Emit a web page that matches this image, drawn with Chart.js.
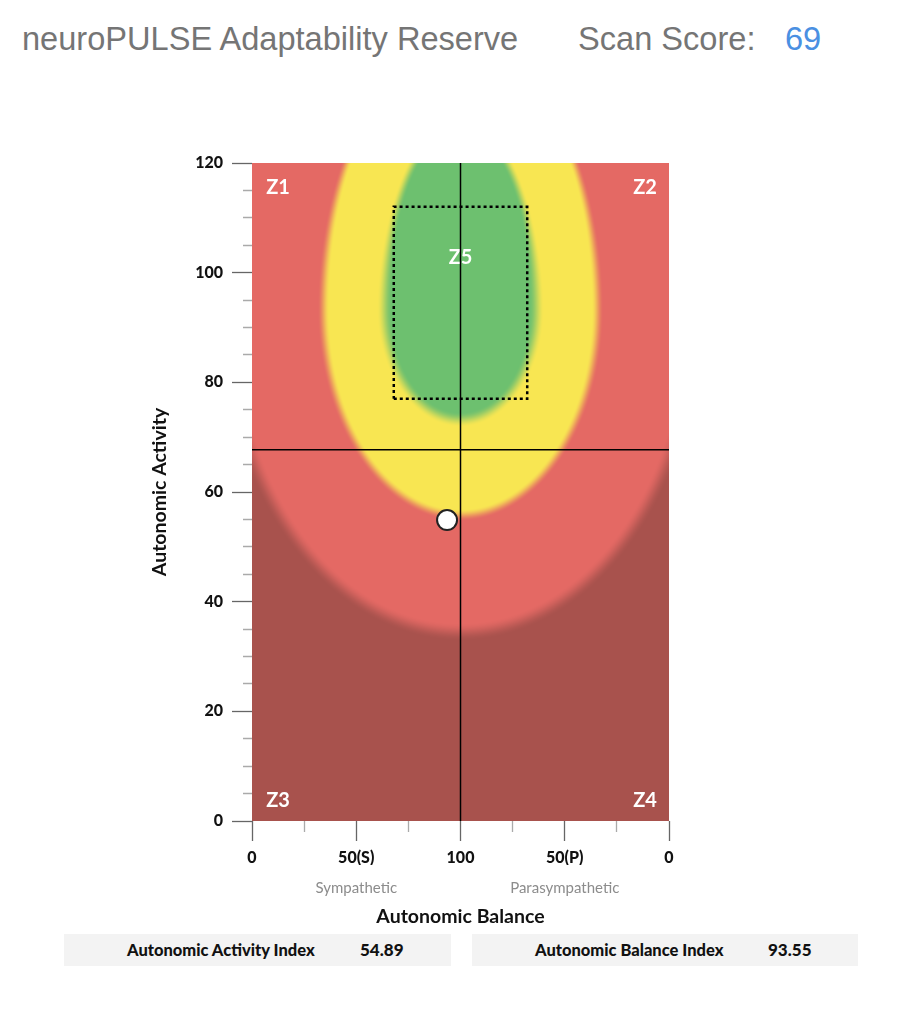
<!DOCTYPE html>
<html>
<head>
<meta charset="utf-8">
<script src="https://cdn.jsdelivr.net/npm/chart.js@4/dist/chart.umd.min.js"></script>
<style>
  html, body { margin:0; padding:0; background:#fff; }
  body { width:902px; height:1024px; position:relative; overflow:hidden; font-family:"Liberation Sans", Arial, sans-serif; }
  .hdr { position:absolute; top:23px; font-size:32.6px; line-height:32px; color:#757575; white-space:nowrap; }
  #wrap { position:absolute; left:0; top:0; width:902px; height:928px; }
  .box { position:absolute; top:934px; height:32px; background:#f3f3f3; font-family:Lato, sans-serif; font-weight:900; color:#111; }
  .box span { position:absolute; top:0; line-height:32px; white-space:nowrap; }
  .lab { font-size:16.5px; }
  .val { font-size:17px; }
</style>
</head>
<body>
<div class="hdr" style="left:22px">neuroPULSE Adaptability Reserve</div>
<div class="hdr" style="left:578px">Scan Score:</div>
<div class="hdr" id="score" style="left:785px;color:#4a90e2"></div>
<div id="wrap"><canvas id="c" width="902" height="928"></canvas></div>
<div class="box" style="left:64px;width:387px"><span class="lab" style="left:63px" id="l1"></span><span class="val" style="left:296px" id="v1"></span></div>
<div class="box" style="left:472px;width:386px"><span class="lab" style="left:63px" id="l2"></span><span class="val" style="left:296px" id="v2"></span></div>
<script>
// ---- data ----
const scanScore = 69;
const balanceTickValues = [0, 50, 100, 150, 200];
const balanceTickLabels = ['0', '50(S)', '100', '50(P)', '0'];
const balanceSubLabels = ['', 'Sympathetic', '', 'Parasympathetic', ''];
const activityRange = [0, 120];
const balanceRange = [0, 200];
const pointBalance = [93.55];
const pointActivity = [54.89];
const crossBalance = 100;
const crossActivity = 67.7;
const z5BoxBalance = [68, 132];
const z5BoxActivity = [77, 112];
const zoneNames = ['Z1', 'Z2', 'Z3', 'Z4', 'Z5'];
const zoneLabelBalance = [12.5, 188.5, 12.5, 188.5, 100];
const zoneLabelActivity = [115.6, 115.6, 3.8, 3.8, 102.7];
// shaded bands (outer red, yellow, green): center and half extents in data units
const bandCenter = [100, 93.2];
const bandHalfWidth = [111.8, 65.7, 36.5];
const bandHalfHeightUp = [80, 48.3, 34];
const bandHalfHeightDown = [58.7, 37.4, 20];
const indexNames = ['Autonomic Activity Index', 'Autonomic Balance Index'];
const indexValues = ['54.89', '93.55'];

// ---- styles ----
const baseColor = [168, 82, 77];
const bandColors = [[228, 105, 100], [248, 230, 82], [109, 192, 111]];
const bandEdge = [18, 12, 15];

document.getElementById('score').textContent = scanScore;
document.getElementById('l1').textContent = indexNames[0];
document.getElementById('v1').textContent = indexValues[0];
document.getElementById('l2').textContent = indexNames[1];
document.getElementById('v2').textContent = indexValues[1];

const zonesPlugin = {
  id: 'zones',
  beforeDatasetsDraw(chart) {
    const { ctx, chartArea: a, scales: { x, y } } = chart;
    const L = a.left, T = a.top, W = Math.round(a.right - a.left), H = Math.round(a.bottom - a.top);
    const off = document.createElement('canvas');
    off.width = W; off.height = H;
    const octx = off.getContext('2d');
    const img = octx.createImageData(W, H);
    const cx = x.getPixelForValue(bandCenter[0]) - L;
    const cy = y.getPixelForValue(bandCenter[1]) - T;
    const pxX = Math.abs(x.getPixelForValue(1) - x.getPixelForValue(0));
    const pxY = Math.abs(y.getPixelForValue(0) - y.getPixelForValue(1));
    const bands = bandHalfWidth.map((hw, i) => ({
      a: hw * pxX, up: bandHalfHeightUp[i] * pxY, down: bandHalfHeightDown[i] * pxY,
      col: bandColors[i], w: bandEdge[i]
    }));
    for (let j = 0; j < H; j++) {
      for (let i = 0; i < W; i++) {
        const dx = i + 0.5 - cx, dy = j + 0.5 - cy;
        const r = Math.sqrt(dx * dx + dy * dy);
        let c0 = baseColor[0], c1 = baseColor[1], c2 = baseColor[2];
        for (const b of bands) {
          const B = dy < 0 ? b.up : b.down;
          const d = Math.sqrt((dx / b.a) ** 2 + (dy / B) ** 2);
          const s = d > 0 ? r * (1 - 1 / d) : -1e9;
          let t = Math.min(1, Math.max(0, 0.5 - s / b.w));
          t = t * t * (3 - 2 * t);
          c0 += (b.col[0] - c0) * t;
          c1 += (b.col[1] - c1) * t;
          c2 += (b.col[2] - c2) * t;
        }
        const k = (j * W + i) * 4;
        img.data[k] = c0; img.data[k + 1] = c1; img.data[k + 2] = c2; img.data[k + 3] = 255;
      }
    }
    octx.putImageData(img, 0, 0);
    ctx.save();
    ctx.drawImage(off, L, T, a.right - a.left, a.bottom - a.top);
    ctx.fillStyle = '#ffffff';
    ctx.font = 'bold 20px Lato, sans-serif';
    ctx.textAlign = 'center';
    ctx.textBaseline = 'middle';
    zoneNames.forEach((n, i) => {
      ctx.fillText(n, x.getPixelForValue(zoneLabelBalance[i]), y.getPixelForValue(zoneLabelActivity[i]));
    });
    ctx.restore();
  }
};

const isMajorX = v => balanceTickValues.includes(v);
const isMajorY = v => v % 20 === 0;

const boxPath = [
  { x: z5BoxBalance[0], y: z5BoxActivity[0] },
  { x: z5BoxBalance[1], y: z5BoxActivity[0] },
  { x: z5BoxBalance[1], y: z5BoxActivity[1] },
  { x: z5BoxBalance[0], y: z5BoxActivity[1] },
  { x: z5BoxBalance[0], y: z5BoxActivity[0] }
];

new Chart(document.getElementById('c'), {
  type: 'scatter',
  data: {
    datasets: [
      {
        data: pointBalance.map((b, i) => ({ x: b, y: pointActivity[i] })),
        pointRadius: 10, pointBackgroundColor: '#ffffff', pointBorderColor: '#222222', pointBorderWidth: 2,
        order: 0
      },
      {
        data: [{ x: crossBalance, y: activityRange[0] }, { x: crossBalance, y: activityRange[1] }],
        showLine: true, borderColor: '#000', borderWidth: 1.5, pointRadius: 0, order: 2
      },
      {
        data: [{ x: balanceRange[0], y: crossActivity }, { x: balanceRange[1], y: crossActivity }],
        showLine: true, borderColor: '#000', borderWidth: 1.5, pointRadius: 0, order: 2
      },
      {
        data: boxPath,
        showLine: true, borderColor: '#000', borderWidth: 2.5, borderDash: [3, 3], pointRadius: 0, order: 1
      }
    ]
  },
  options: {
    responsive: false,
    animation: false,
    devicePixelRatio: 1,
    events: [],
    layout: { padding: { left: 140, top: 163, right: 233, bottom: 0 } },
    plugins: { legend: { display: false }, tooltip: { enabled: false } },
    scales: {
      x: {
        type: 'linear', position: 'bottom', weight: 0,
        min: balanceRange[0], max: balanceRange[1],
        afterFit: s => { s.height = 44; },
        border: { display: false },
        grid: {
          drawOnChartArea: false, tickLength: 20,
          tickColor: c => isMajorX(c.tick.value) ? '#666' : '#aaa',
          tickWidth: 1.3,
          tickBorderDash: c => isMajorX(c.tick.value) ? [] : [11, 100]
        },
        ticks: {
          stepSize: 25, autoSkip: false, maxRotation: 0, padding: 7,
          color: '#111', font: { family: 'Lato', weight: '900', size: 16 },
          callback: v => { const k = balanceTickValues.indexOf(v); return k >= 0 ? balanceTickLabels[k] : ''; }
        }
      },
      x2: {
        type: 'linear', position: 'bottom', weight: 1,
        min: balanceRange[0], max: balanceRange[1],
        afterFit: s => { s.height = 63; },
        border: { display: false },
        grid: { display: false, drawTicks: false },
        ticks: {
          stepSize: 50, autoSkip: false, maxRotation: 0, padding: 14,
          color: '#8c8c8c', font: { family: 'Lato', size: 15 },
          callback: v => { const k = balanceTickValues.indexOf(v); return k >= 0 ? balanceSubLabels[k] : ''; }
        },
        title: {
          display: true, text: 'Autonomic Balance', color: '#111',
          font: { family: 'Lato', weight: 'bold', size: 19.5 }, padding: { top: 0, bottom: 0 }
        }
      },
      y: {
        type: 'linear', position: 'left',
        min: activityRange[0], max: activityRange[1],
        afterFit: s => { s.width = 112; },
        border: { display: false },
        grid: {
          drawOnChartArea: false, tickLength: 20,
          tickColor: c => isMajorY(c.tick.value) ? '#666' : '#aaa',
          tickWidth: 1.3,
          tickBorderDash: c => isMajorY(c.tick.value) ? [] : [0, 11, 9, 100]
        },
        ticks: {
          stepSize: 5, autoSkip: false, padding: 9,
          color: '#111', font: { family: 'Lato', weight: '900', size: 16 },
          callback: v => isMajorY(v) ? String(v) : ''
        },
        title: {
          display: true, text: 'Autonomic Activity', color: '#111',
          font: { family: 'Lato', weight: 'bold', size: 19.5 }, padding: { top: 8, bottom: 0 }
        }
      }
    }
  },
  plugins: [zonesPlugin]
});
</script>
</body>
</html>
